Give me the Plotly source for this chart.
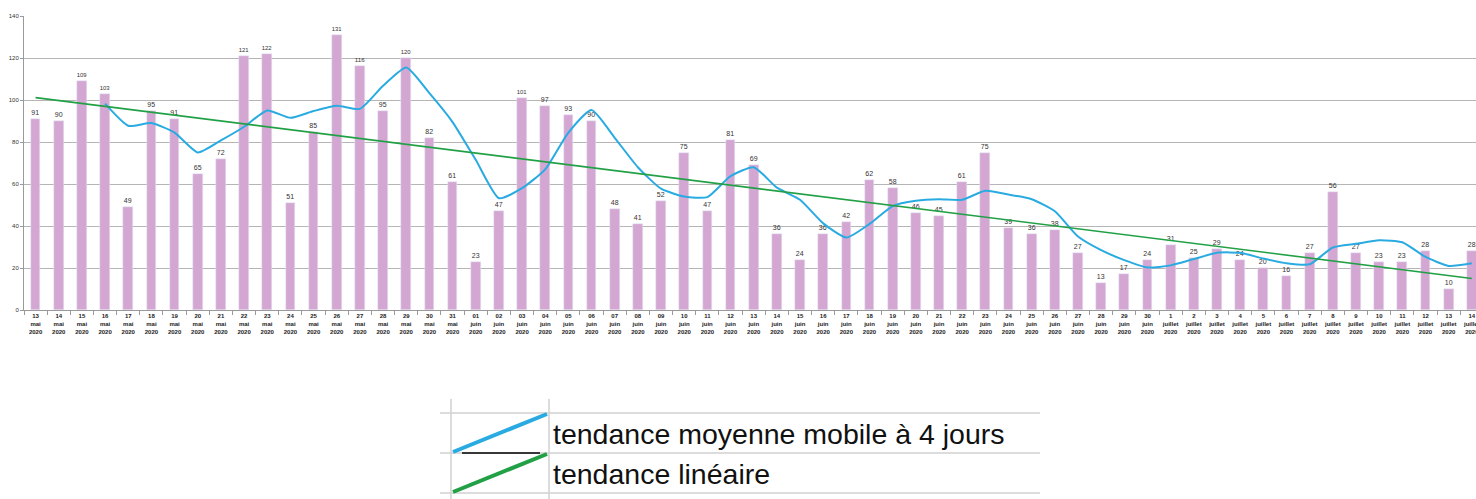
import numpy as np
import plotly.graph_objects as go

days = (["13","14","15","16","17","18","19","20","21","22","23","24","25","26","27","28","29","30","31"]
        + ["01","02","03","04","05","06","07","08","09"] + [str(d) for d in range(10, 31)]
        + [str(d) for d in range(1, 15)])
months = ["mai"] * 19 + ["juin"] * 30 + ["juillet"] * 14
years = ["2020"] * 63

values = [91, 90, 109, 103, 49, 95, 91, 65, 72, 121, 122, 51, 85, 131, 116, 95, 120, 82, 61,
          23, 47, 101, 97, 93, 90, 48, 41, 52, 75, 47, 81, 69, 36, 24, 36, 42, 62, 58, 46, 45,
          61, 75, 39, 36, 38, 27, 13, 17, 24,
          31, 25, 29, 24, 20, 16, 27, 56, 27, 23, 23, 28, 10, 28]

legend_labels = ["tendance moyenne mobile à 4 jours", "tendance linéaire"]

n = len(values)
x = list(range(n))
ticktext = [f"<b>{d}<br>{m}<br>{y}</b>" for d, m, y in zip(days, months, years)]

# 4-day moving average trendline (derived from the data, as in the spreadsheet)
vals = np.array(values, dtype=float)
mov = [None] * 3 + [float(vals[i-3:i+1].mean()) for i in range(3, n)]
# linear trendline (least squares fit of the data)
slope, intercept = np.polyfit(np.arange(n), vals, 1)
lin = [float(intercept + slope * i) for i in range(n)]

W, H = 1476, 499
ml, mr, mt, mb = 24, 0, 16, 189
pw, ph = W - ml - mr, H - mt - mb

def px(xp):
    return (xp - ml) / pw

def py(yp):
    return (H - mb - yp) / ph

BAR = "#d4a7d3"
BLUE = "#29abe2"
GREEN = "#22a046"

fig = go.Figure()
fig.add_trace(go.Bar(x=x, y=values, marker_color=BAR, width=0.42,
                     text=[str(v) for v in values], textposition="outside",
                     textfont=dict(size=7, color="#333333", family="Arial"),
                     cliponaxis=False, showlegend=False))
fig.add_trace(go.Scatter(x=x, y=mov, mode="lines",
                         line=dict(color=BLUE, width=2, shape="spline", smoothing=0.55),
                         showlegend=False))
fig.add_trace(go.Scatter(x=[0, n - 1], y=[lin[0], lin[-1]], mode="lines",
                         line=dict(color=GREEN, width=1.6), showlegend=False))

shapes = []
GRID = "#d0d0d0"
# legend table grid
for yp in [413, 453, 493]:
    shapes.append(dict(type="line", xref="paper", yref="paper", x0=px(440), x1=px(1040),
                       y0=py(yp), y1=py(yp), line=dict(color=GRID, width=1.5)))
for xp in [451, 549]:
    shapes.append(dict(type="line", xref="paper", yref="paper", x0=px(xp), x1=px(xp),
                       y0=py(399), y1=py(499), line=dict(color=GRID, width=1.5)))
shapes.append(dict(type="line", xref="paper", yref="paper", x0=px(453), x1=px(547),
                   y0=py(452), y1=py(414), line=dict(color=BLUE, width=4)))
shapes.append(dict(type="line", xref="paper", yref="paper", x0=px(462), x1=px(540),
                   y0=py(453), y1=py(453), line=dict(color="#000000", width=1.5)))
shapes.append(dict(type="line", xref="paper", yref="paper", x0=px(453), x1=px(547),
                   y0=py(492), y1=py(454), line=dict(color=GREEN, width=4)))

annotations = []
for lbl, yc in zip(legend_labels, [434, 474]):
    annotations.append(dict(text=lbl, xref="paper", yref="paper", x=px(551), y=py(yc),
                            xanchor="left", yanchor="middle", showarrow=False,
                            font=dict(size=28.5, color="#111111", family="Liberation Sans, Arial")))

fig.update_layout(
    width=W, height=H, margin=dict(l=ml, r=mr, t=mt, b=mb, autoexpand=False),
    paper_bgcolor="white", plot_bgcolor="white", bargap=0,
    shapes=shapes, annotations=annotations,
    font=dict(family="Arial, Liberation Sans"),
)
fig.update_xaxes(range=[-0.5, 62.18], tickmode="array", tickvals=x, ticktext=ticktext,
                 tickangle=0, tickfont=dict(size=6, color="#222222", family="Arial"),
                 ticklabeloverflow="allow",
                 showgrid=False, showline=True, linecolor="#9a9a9a", linewidth=1, ticks="",
                 minor=dict(tick0=0.5, dtick=1, ticks="outside", ticklen=4, tickcolor="#9a9a9a", showgrid=False),
                 zeroline=False, automargin=False)
fig.update_yaxes(range=[0, 140], tickvals=list(range(0, 141, 20)),
                 tickfont=dict(size=6, color="#333333"), showgrid=True, gridcolor="#b5b5b5",
                 gridwidth=1, showline=True, linecolor="#9a9a9a", ticks="outside", ticklen=3,
                 tickcolor="#9a9a9a", zeroline=False, automargin=False)

fig.write_html("out.html", config={"displayModeBar": False},
               post_script="document.body.style.margin='0px';document.body.style.overflow='hidden';")
